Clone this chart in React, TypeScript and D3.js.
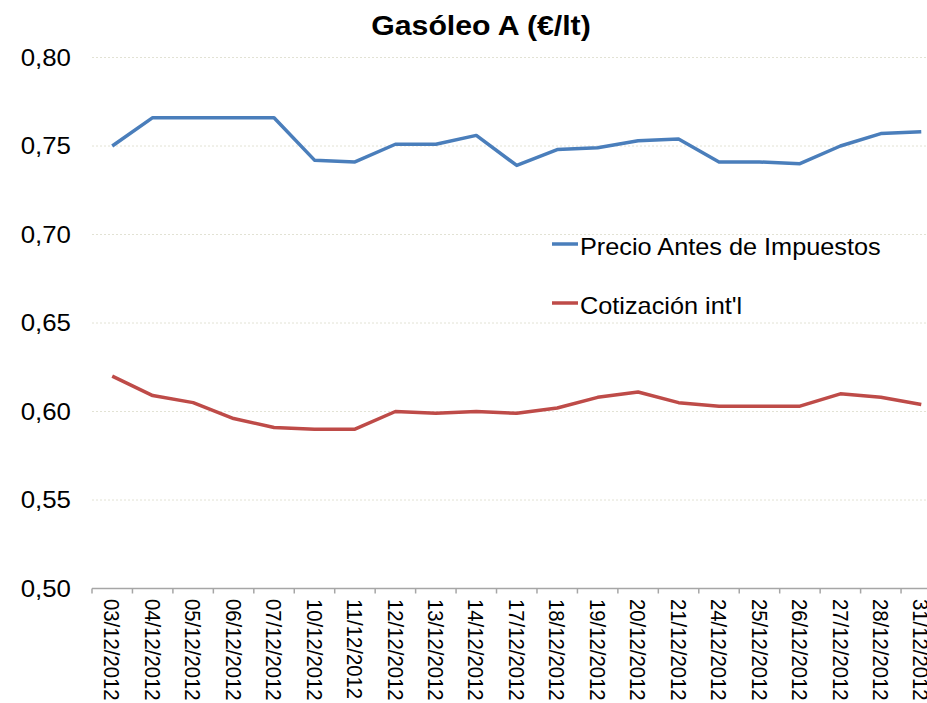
import React, { useEffect, useRef } from 'react';
import * as d3 from 'd3';

const dates = [
  '03/12/2012', '04/12/2012', '05/12/2012', '06/12/2012', '07/12/2012',
  '10/12/2012', '11/12/2012', '12/12/2012', '13/12/2012', '14/12/2012',
  '17/12/2012', '18/12/2012', '19/12/2012', '20/12/2012', '21/12/2012',
  '24/12/2012', '25/12/2012', '26/12/2012', '27/12/2012', '28/12/2012',
  '31/12/2012',
];

const precioAntes = [
  0.750, 0.766, 0.766, 0.766, 0.766, 0.742, 0.741, 0.751, 0.751, 0.756,
  0.739, 0.748, 0.749, 0.753, 0.754, 0.741, 0.741, 0.740, 0.750, 0.757,
  0.758,
];

const cotizacion = [
  0.620, 0.609, 0.605, 0.596, 0.591, 0.590, 0.590, 0.600, 0.599, 0.600,
  0.599, 0.602, 0.608, 0.611, 0.605, 0.603, 0.603, 0.603, 0.610, 0.608,
  0.604,
];

const yTicks = [0.5, 0.55, 0.6, 0.65, 0.7, 0.75, 0.8];

const series = [
  { name: 'Precio Antes de Impuestos', values: precioAntes, color: '#4a7ebb' },
  { name: "Cotización int'l", values: cotizacion, color: '#be4b48' },
];

const FONT = '"Liberation Sans", Arial, sans-serif';
// the source picture is stretched sideways a little
const SX = 1.1;

const App = () => {
  const svgRef = useRef<SVGSVGElement>(null);

  useEffect(() => {
    const svg = d3.select(svgRef.current);
    svg.selectAll('*').remove();

    const left = 92;
    const right = 941.5;
    const top = 57.5;
    const bottom = 588.5;

    const x = d3.scaleBand().domain(dates).range([left, right]);
    const y = d3.scaleLinear().domain([0.5, 0.8]).range([bottom, top]);

    // Gridlines
    svg.append('g')
      .selectAll('line')
      .data(yTicks.slice(1))
      .enter().append('line')
      .attr('x1', left)
      .attr('x2', 927)
      .attr('y1', d => y(d))
      .attr('y2', d => y(d))
      .attr('stroke', '#e2e2d4')
      .attr('stroke-width', 1)
      .attr('stroke-dasharray', '2,2');

    // Y labels
    svg.append('g')
      .selectAll('text')
      .data(yTicks)
      .enter().append('text')
      .attr('transform', d => `translate(71,${y(d)}) scale(${SX},1)`)
      .attr('dy', '0.35em')
      .attr('text-anchor', 'end')
      .attr('font-family', FONT)
      .attr('font-size', 23.5)
      .attr('fill', '#000')
      .text(d => d3.format('.2f')(d).replace('.', ','));

    // X axis line + ticks at category boundaries
    svg.append('line')
      .attr('x1', left).attr('x2', right)
      .attr('y1', bottom).attr('y2', bottom)
      .attr('stroke', '#a6a6a6').attr('stroke-width', 1.5);

    const bounds = dates.map(d => x(d) as number).concat([right]);
    svg.append('g')
      .selectAll('line')
      .data(bounds)
      .enter().append('line')
      .attr('x1', d => d).attr('x2', d => d)
      .attr('y1', bottom).attr('y2', bottom + 5)
      .attr('stroke', '#a6a6a6').attr('stroke-width', 1.5);

    // X labels, rotated
    svg.append('g')
      .selectAll('text')
      .data(dates)
      .enter().append('text')
      .attr('transform', d => `translate(${(x(d) as number) + x.bandwidth() / 2},599) scale(${SX},1) rotate(90)`)
      .attr('dy', '0.35em')
      .attr('font-family', FONT)
      .attr('font-size', 20.3)
      .attr('fill', '#000')
      .text(d => d);

    // Lines
    const line = d3.line<number>()
      .x((_, i) => (x(dates[i]) as number) + x.bandwidth() / 2)
      .y(d => y(d));

    svg.append('g')
      .selectAll('path')
      .data(series)
      .enter().append('path')
      .attr('d', s => line(s.values))
      .attr('fill', 'none')
      .attr('stroke', s => s.color)
      .attr('stroke-width', 3.5)
      .attr('stroke-linejoin', 'round');

    // Legend
    const legend = svg.append('g')
      .selectAll('g')
      .data(series)
      .enter().append('g')
      .attr('transform', (_, i) => `translate(552,${244 + i * 59})`);

    legend.append('line')
      .attr('x1', 0).attr('x2', 26)
      .attr('y1', 0).attr('y2', 0)
      .attr('stroke', s => s.color)
      .attr('stroke-width', 3.5);

    legend.append('text')
      .attr('transform', `translate(28,11) scale(${SX},1)`)
      .attr('font-family', FONT)
      .attr('font-size', 23)
      .attr('fill', '#000')
      .text(s => s.name);

    // Title
    svg.append('text')
      .attr('transform', `translate(481,35) scale(${SX},1)`)
      .attr('text-anchor', 'middle')
      .attr('font-family', FONT)
      .attr('font-weight', 'bold')
      .attr('font-size', 27.5)
      .attr('fill', '#000')
      .text('Gasóleo A (€/lt)');
  }, []);

  return (
    <svg
      ref={svgRef}
      width={927}
      height={703}
      style={{ position: 'absolute', left: 0, top: 0, background: '#fff' }}
    ></svg>
  );
};

export default App;
